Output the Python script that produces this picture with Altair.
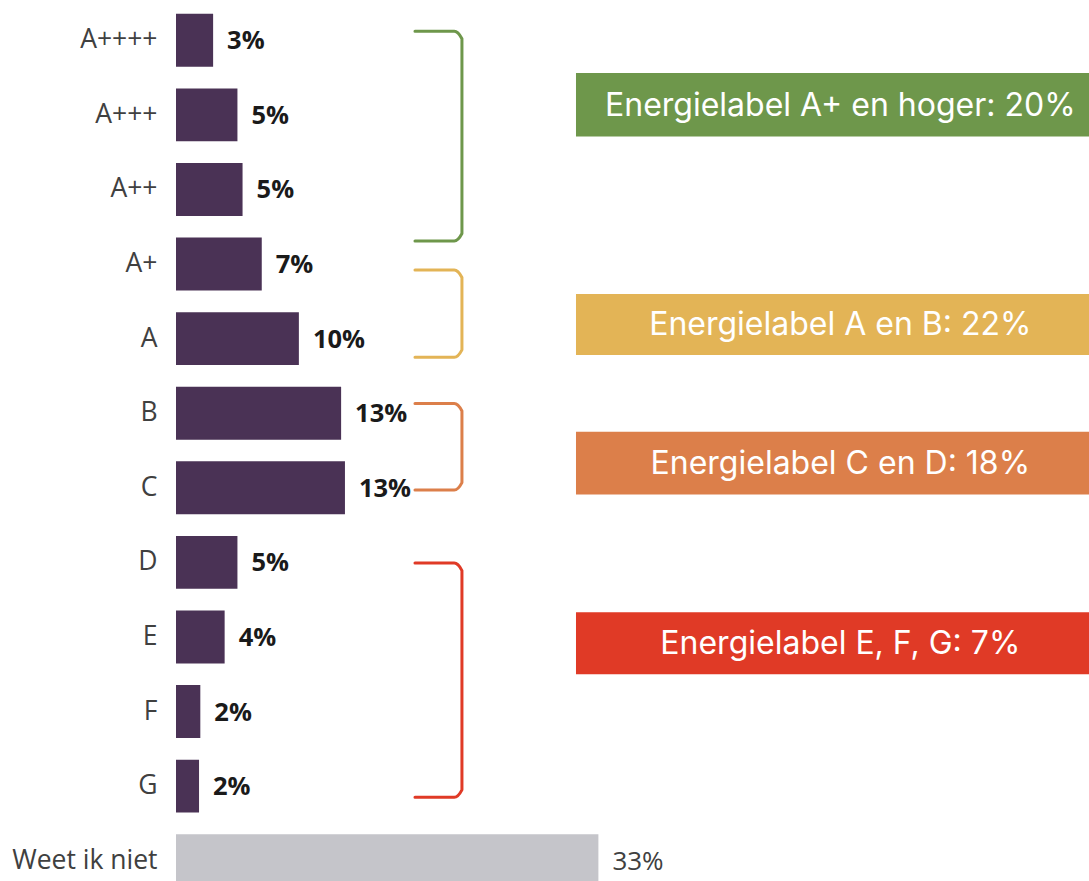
import altair as alt
import pandas as pd

# ---- data ----
categories = ["A++++", "A+++", "A++", "A+", "A", "B", "C", "D", "E", "F", "G", "Weet ik niet"]
bar_values = [2.9, 4.8, 5.2, 6.7, 9.6, 12.9, 13.2, 4.8, 3.8, 1.9, 1.8, 33.0]
value_labels = ["3%", "5%", "5%", "7%", "10%", "13%", "13%", "5%", "4%", "2%", "2%", "33%"]

group_labels = [
    "Energielabel A+ en hoger: 20%",
    "Energielabel A en B: 22%",
    "Energielabel C en D: 18%",
    "Energielabel E, F, G: 7%",
]
group_colors = ["#6E974B", "#E3B456", "#DC7F4A", "#E03A26"]

# ---- layout (row units: row i centre = i; x in % units) ----
bracket_spans = [(-0.12, 2.69), (3.08, 4.25), (4.87, 6.03), (7.01, 10.15)]
box_spans = [(0.44, 1.29), (3.40, 4.22), (5.25, 6.09), (7.67, 8.50)]
BR_LEFT, BR_RIGHT = 18.67, 22.34
BOX_LEFT, BOX_RIGHT, BOX_TEXT_X = 31.25, 72.5, 51.9
X_MAX = 71.33
Y_RANGE = [3, 898]

BAR_PURPLE = "#4A3255"
BAR_GREY = "#C5C5CA"

df = pd.DataFrame({
    "cat": categories,
    "val": bar_values,
    "lab": value_labels,
    "fill": [BAR_PURPLE] * (len(categories) - 1) + [BAR_GREY],
    "bold": [1] * (len(categories) - 1) + [0],
})

xscale = alt.Scale(domain=[0, X_MAX])


def yband(axis=None):
    return alt.Y("cat:N", sort=categories, title=None,
                 axis=axis,
                 scale=alt.Scale(domain=categories, range=Y_RANGE,
                                 paddingInner=0.29, paddingOuter=0.145))


yaxis = alt.Axis(domain=False, ticks=False, grid=False, labelPadding=19,
                 labelFontSize=26.5, labelFont="Open Sans",
                 labelColor="#404040", labelLimit=0)

bars = alt.Chart(df).mark_bar().encode(
    y=yband(yaxis),
    x=alt.X("val:Q", scale=xscale, axis=None),
    color=alt.Color("fill:N", scale=None),
)

lab_bold = alt.Chart(df).transform_filter("datum.bold == 1").mark_text(
    align="left", baseline="middle", dx=14, dy=1, font="Open Sans", fontWeight="bold",
    fontSize=25.5, color="#1a1a1a"
).encode(y=yband(), x=alt.X("val:Q", scale=xscale, axis=None), text="lab:N")

lab_plain = alt.Chart(df).transform_filter("datum.bold == 0").mark_text(
    align="left", baseline="middle", dx=14, dy=1, font="Open Sans",
    fontSize=26, color="#404040"
).encode(y=yband(), x=alt.X("val:Q", scale=xscale, axis=None), text="lab:N")

# ---- brackets ----
cx, cy = 0.6, 0.1
rows = []
for g, (t, b) in enumerate(bracket_spans):
    pts = [(BR_LEFT, t), (BR_RIGHT - cx, t), (BR_RIGHT, t + cy),
           (BR_RIGHT, b - cy), (BR_RIGHT - cx, b), (BR_LEFT, b)]
    for k, (px, py) in enumerate(pts):
        rows.append({"g": group_labels[g], "c": group_colors[g], "k": k, "x": px, "y": py})
bdf = pd.DataFrame(rows)


def yq(field):
    return alt.Y(field, axis=None,
                 scale=alt.Scale(domain=[-0.5, 11.5], range=Y_RANGE, nice=False, zero=False))


brackets = alt.Chart(bdf).mark_line(strokeWidth=3, strokeCap="round", strokeJoin="round",
                                    interpolate="monotone").encode(
    x=alt.X("x:Q", scale=xscale, axis=None),
    y=yq("y:Q"),
    detail="g:N",
    order="k:Q",
    color=alt.Color("c:N", scale=None),
)

boxdf = pd.DataFrame({
    "g": group_labels,
    "c": group_colors,
    "y0": [s[0] for s in box_spans],
    "y1": [s[1] for s in box_spans],
    "ym": [(s[0] + s[1]) / 2 for s in box_spans],
    "x0": [BOX_LEFT] * 4,
    "x1": [BOX_RIGHT] * 4,
    "xt": [BOX_TEXT_X] * 4,
})

boxes = alt.Chart(boxdf).mark_rect(clip=True).encode(
    x=alt.X("x0:Q", scale=xscale, axis=None), x2="x1",
    y=yq("y0:Q"), y2="y1",
    color=alt.Color("c:N", scale=None),
)

box_text = alt.Chart(boxdf).mark_text(
    align="center", baseline="middle", font="Inter", fontSize=32, fontWeight=400,
    color="white", dy=1
).encode(
    x=alt.X("xt:Q", scale=xscale, axis=None),
    y=yq("ym:Q"),
    text="g:N",
)

chart = alt.layer(bars, lab_bold, lab_plain, brackets, boxes, box_text).resolve_scale(
    y="independent"
).properties(
    width=913, height=881,
    background="white",
    autosize=alt.AutoSizeParams(type="none"),
    padding={"left": 176, "top": 0, "right": 0, "bottom": 0},
).configure_view(stroke=None)

chart.save("out.html", embed_options={"renderer": "svg", "actions": False})
